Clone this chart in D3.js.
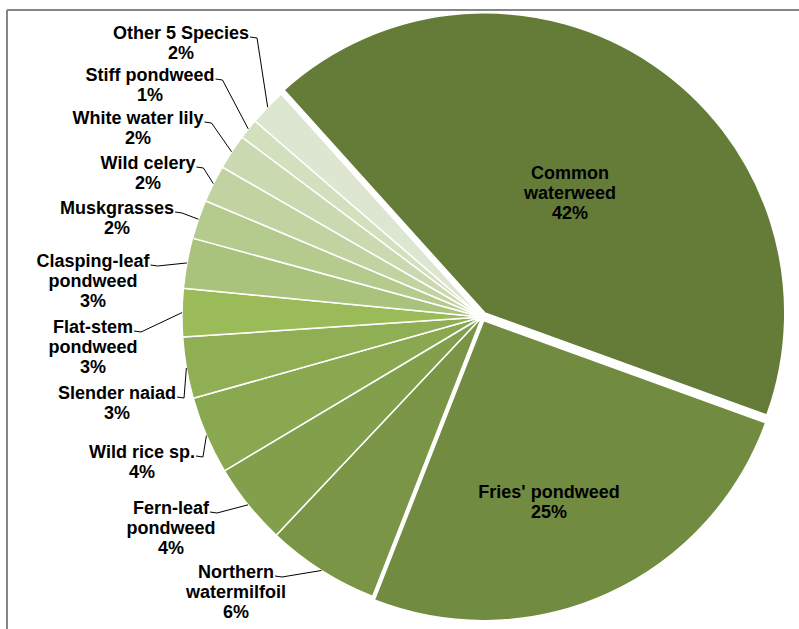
<!DOCTYPE html>
<html>
<head>
<meta charset="utf-8">
<script src="https://cdn.jsdelivr.net/npm/d3@7"></script>
<style>
  html, body { margin: 0; padding: 0; background: #fff; }
  svg { display: block; }
  text { font-family: "Liberation Sans", Arial, sans-serif; font-weight: bold; fill: #000; }
</style>
</head>
<body>
<svg id="chart" width="799" height="629"></svg>
<script>
// Share of submerged aquatic plant species (percent of total)
const species = [
  "Common waterweed", "Fries' pondweed", "Northern watermilfoil", "Fern-leaf pondweed",
  "Wild rice sp.", "Slender naiad", "Flat-stem pondweed", "Clasping-leaf pondweed",
  "Muskgrasses", "Wild celery", "White water lily", "Stiff pondweed", "Other 5 Species"
];
const shares = [42.2, 25.4, 6.1, 4.4, 4.2, 3.3, 2.6, 2.7, 2.1, 2.0, 1.9, 1.1, 2.0];

// Label text broken into lines
const labelLines = [
  ["Common", "waterweed"], ["Fries' pondweed"], ["Northern", "watermilfoil"], ["Fern-leaf", "pondweed"],
  ["Wild rice sp."], ["Slender naiad"], ["Flat-stem", "pondweed"], ["Clasping-leaf", "pondweed"],
  ["Muskgrasses"], ["Wild celery"], ["White water lily"], ["Stiff pondweed"], ["Other 5 Species"]
];

// Fill colours, dark to light olive
const fills = [
  "#657c38", "#718b40", "#7a9545", "#82a04b", "#89a84f", "#90ae54", "#9bbb59",
  "#a9c37d", "#b5cb8d", "#c0d3a0", "#cad9b0", "#d3e0be", "#dde6d0"
];

// Slices pulled out from the centre (px)
const explode = [5, 4, 0, 0, 0, 0, 0, 0, 0, 0, 0, 0, 0];

// Label block centres (first line) and whether a leader line is drawn
const labelCenters = [
  [570, 173], [549, 492], [236, 572], [171, 508], [142, 452], [117, 393], [93, 327],
  [93, 261], [117, 208], [148, 163], [138, 118], [150, 75], [181, 33]
];
const hasLeader = [false, false, true, true, true, true, true, true, true, true, true, true, true];

const svg = d3.select("#chart");
const W = 799, H = 629;
const cx = 482, cy = 317, R = 300;
const lineH = 20;
const fontSize = 18;

// Frame (top and left rules)
svg.append("line").attr("x1", 7).attr("y1", 10).attr("x2", W).attr("y2", 10)
  .attr("stroke", "#868686").attr("stroke-width", 2);
svg.append("line").attr("x1", 7).attr("y1", 10).attr("x2", 7).attr("y2", H)
  .attr("stroke", "#868686").attr("stroke-width", 2);

const data = species.map((name, i) => ({
  name, value: shares[i], lines: labelLines[i], fill: fills[i],
  explode: explode[i], center: labelCenters[i], leader: hasLeader[i]
}));

const start = -42 * Math.PI / 180;
const pie = d3.pie().sort(null).value(d => d.value)
  .startAngle(start).endAngle(start + 2 * Math.PI);
const arcs = pie(data);
const arc = d3.arc().innerRadius(0).outerRadius(R);

const g = svg.append("g").attr("transform", `translate(${cx},${cy})`);

g.selectAll("path.slice").data(arcs).join("path")
  .attr("class", "slice")
  .attr("d", arc)
  .attr("fill", d => d.data.fill)
  .attr("stroke", "#fff")
  .attr("stroke-width", 1.5)
  .attr("stroke-linejoin", "round")
  .attr("transform", d => {
    const mid = (d.startAngle + d.endAngle) / 2;
    const o = d.data.explode;
    return `translate(${o * Math.sin(mid)},${-o * Math.cos(mid)})`;
  });

const pct = d3.format(".0f");
const total = d3.sum(shares);

// Data labels, with leader lines from the first line's end to the slice edge
const labels = svg.append("g");
arcs.forEach(d => {
  const [lx, ly] = d.data.center;
  const lines = d.data.lines.concat([pct(d.data.value / total * 100) + "%"]);
  const t = labels.append("text")
    .attr("text-anchor", "middle")
    .attr("font-size", fontSize);
  lines.forEach((ln, k) => {
    t.append("tspan").attr("x", lx).attr("y", ly + k * lineH).attr("dy", "0.36em").text(ln);
  });
  if (d.data.leader) {
    const first = t.select("tspan").node();
    const w = first.getComputedTextLength();
    const x0 = lx + w / 2 + 1;
    const y0 = ly + 4;
    const mid = (d.startAngle + d.endAngle) / 2;
    const ex = cx + R * Math.sin(mid);
    const ey = cy - R * Math.cos(mid);
    const pts = [[x0, y0], [x0 + 7, y0 + 1], [ex, ey]];
    labels.append("path")
      .attr("d", d3.line()(pts))
      .attr("fill", "none")
      .attr("stroke", "#000")
      .attr("stroke-width", 1);
  }
});
</script>
</body>
</html>
